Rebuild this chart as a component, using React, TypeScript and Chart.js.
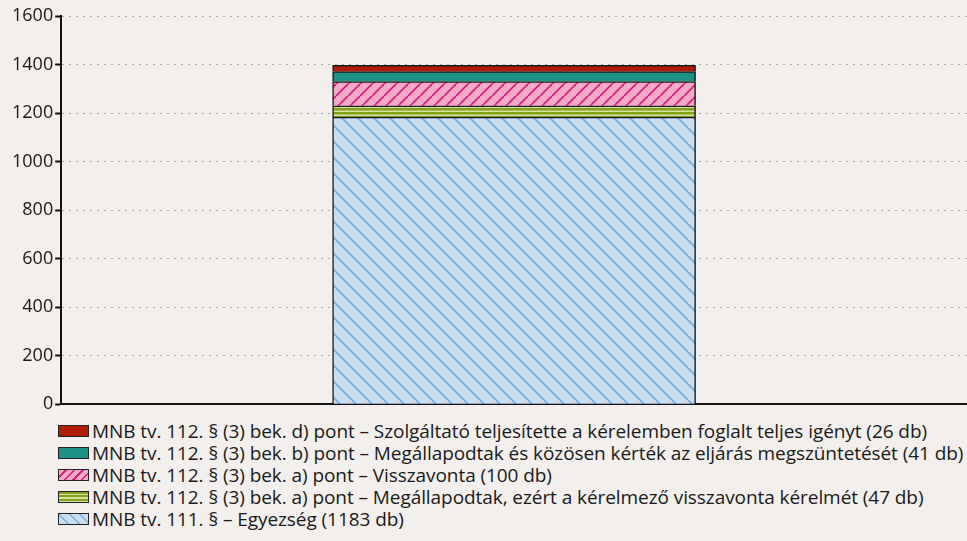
import React, { useEffect, useRef } from "react";
import { Chart, registerables } from "chart.js";

Chart.register(...registerables);

const categories = [""];
const egyezseg = [1183];
const visszavontaKerelmet = [47];
const visszavonta = [100];
const megszuntetes = [41];
const teljesitette = [26];
const yTicks = [0, 200, 400, 600, 800, 1000, 1200, 1400, 1600];

const labels = [
  "MNB tv. 111. § – Egyezség (1183 db)",
  "MNB tv. 112. § (3) bek. a) pont – Megállapodtak, ezért a kérelmező visszavonta kérelmét (47 db)",
  "MNB tv. 112. § (3) bek. a) pont – Visszavonta (100 db)",
  "MNB tv. 112. § (3) bek. b) pont – Megállapodtak és közösen kérték az eljárás megszüntetését (41 db)",
  "MNB tv. 112. § (3) bek. d) pont – Szolgáltató teljesítette a kérelemben foglalt teljes igényt (26 db)",
];

const FONT = "'Open Sans', Lato, sans-serif";

function makePattern(kind: string): CanvasPattern | string {
  const c = document.createElement("canvas");
  const ctx = c.getContext("2d")!;
  if (kind === "blue") {
    const s = 16;
    c.width = s; c.height = s;
    ctx.fillStyle = "#cadeef";
    ctx.fillRect(0, 0, s, s);
    ctx.strokeStyle = "#7eb0da";
    ctx.lineWidth = 2;
    for (const o of [-s, 0, s]) {
      ctx.beginPath();
      ctx.moveTo(o, 0);
      ctx.lineTo(o + s, s);
      ctx.stroke();
    }
  } else if (kind === "pink") {
    const s = 12;
    c.width = s; c.height = s;
    ctx.fillStyle = "#f4aac7";
    ctx.fillRect(0, 0, s, s);
    ctx.strokeStyle = "#d9207f";
    ctx.lineWidth = 1.8;
    for (const o of [-s, 0, s]) {
      ctx.beginPath();
      ctx.moveTo(o, s);
      ctx.lineTo(o + s, 0);
      ctx.stroke();
    }
  } else if (kind === "green") {
    c.width = 8; c.height = 4;
    ctx.fillStyle = "#86a01a";
    ctx.fillRect(0, 0, 8, 4);
    ctx.fillStyle = "#d3e3a0";
    ctx.fillRect(0, 2.5, 8, 1.5);
  }
  return ctx.createPattern(c, "repeat")!;
}

const legendItems = [
  { text: labels[4], bg: "#b01e0a" },
  { text: labels[3], bg: "#1d9284" },
  { text: labels[2], bg: "repeating-linear-gradient(135deg, #f4aac7 0 4px, #d9207f 4px 6px)" },
  { text: labels[1], bg: "repeating-linear-gradient(180deg, #86a01a 0 2px, #d3e3a0 2px 3.5px)" },
  { text: labels[0], bg: "repeating-linear-gradient(45deg, #cadeef 0 6px, #7eb0da 6px 7.5px)" },
];

export default function App() {
  const ref = useRef<HTMLCanvasElement>(null);
  useEffect(() => {
    document.body.style.margin = "0";
    document.body.style.background = "#f2efec";
    const border = "#1a1a1a";
    const common = { borderColor: border, borderWidth: 1.5, barThickness: 363 };
    const chart = new Chart(ref.current!, {
      type: "bar",
      data: {
        labels: categories,
        datasets: [
          { label: labels[0], data: egyezseg, backgroundColor: makePattern("blue") as any, ...common },
          { label: labels[1], data: visszavontaKerelmet, backgroundColor: makePattern("green") as any, ...common },
          { label: labels[2], data: visszavonta, backgroundColor: makePattern("pink") as any, ...common },
          { label: labels[3], data: megszuntetes, backgroundColor: "#1d9284", ...common },
          { label: labels[4], data: teljesitette, backgroundColor: "#b01e0a", ...common },
        ],
      },
      options: {
        animation: false,
        responsive: true,
        maintainAspectRatio: false,
        layout: { padding: { top: 16, left: 10, right: 0, bottom: 0 } },
        plugins: { legend: { display: false }, tooltip: { enabled: false } },
        scales: {
          x: {
            stacked: true,
            grid: { display: false },
            ticks: { display: false },
            border: { color: "#111", width: 2 },
          },
          y: {
            stacked: true,
            min: 0,
            max: 1600,
            afterBuildTicks: (axis: any) => {
              axis.ticks = yTicks.map((v) => ({ value: v }));
            },
            ticks: {
              color: "#1a1a1a",
              font: { family: FONT, size: 18 },
              padding: 2,
              callback: (v: any) => String(v),
            },
            grid: {
              color: (ctx: any) => (ctx.tick && ctx.tick.value === 0 ? "rgba(0,0,0,0)" : "#a8a8a8"),
              tickColor: "#111",
              tickLength: 6,
              tickBorderDash: [1, 0],
              tickWidth: 2,
            } as any,
            border: { color: "#111", width: 2, dash: [2, 5] } as any,
          },
        },
      },
    });
    return () => chart.destroy();
  }, []);

  return (
    <div style={{ width: 967, height: 541, background: "#f2efec", fontFamily: FONT, position: "relative" }}>
      <div style={{ position: "relative", width: 967, height: 417 }}>
        <canvas ref={ref} />
      </div>
      <div style={{ position: "absolute", left: 58, top: 420 }}>
        {legendItems.map((it, i) => (
          <div key={i} style={{ display: "flex", alignItems: "center", height: 22, fontSize: 19, letterSpacing: -0.07, color: "#1a1a1a", whiteSpace: "nowrap" }}>
            <span style={{ display: "inline-block", width: 29, height: 10, border: "1.5px solid #222", background: it.bg, marginRight: 3 }} />
            <span>{it.text}</span>
          </div>
        ))}
      </div>
    </div>
  );
}
